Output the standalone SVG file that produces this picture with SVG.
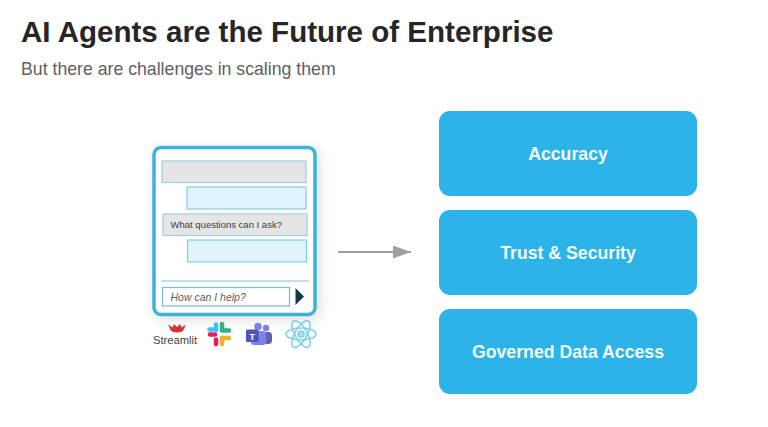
<svg xmlns="http://www.w3.org/2000/svg" width="768" height="427" viewBox="0 0 768 427">
<style>
text{font-family:"Liberation Sans",Arial,sans-serif}
.card{fill:#2cb3e8}
.cl{fill:#f4fbfe;font-size:17.700px;font-weight:700;text-anchor:middle}
.g{fill:#e5e5e5;stroke:#9ccfe0;stroke-width:1.2}
.b{fill:#dff4fd;stroke:#7fcfe4;stroke-width:1.2}
</style>
<defs>
<filter id="sh" x="-20%" y="-20%" width="140%" height="140%"><feDropShadow dx="3" dy="3" stdDeviation="6" flood-color="#000" flood-opacity=".13"/></filter>
<marker id="arr" markerUnits="userSpaceOnUse" markerWidth="18" markerHeight="14" refX="18" refY="6.500" orient="auto"><path d="M0 0L18 6.500L0 13Z" fill="#a0a0a0"/></marker>
</defs>
<rect width="768" height="427" fill="#fff"/>
<text x="21" y="42" font-size="29.550" font-weight="700" fill="#262626">AI Agents are the Future of Enterprise</text>
<text x="21" y="75" font-size="17.700" fill="#5f5f5f">But there are challenges in scaling them</text>
<g id="chat">
<rect x="154" y="147.500" width="161" height="167" rx="7" fill="#fff" stroke="#3bb3dc" stroke-width="3.500" filter="url(#sh)"/>
<rect class="g" x="162" y="161" width="144" height="21.500"/>
<rect class="b" x="187" y="187" width="119" height="22"/>
<rect class="g" x="163" y="214" width="144" height="21.500"/>
<rect class="b" x="187.500" y="240" width="119" height="22"/>
<text x="170.500" y="228" font-size="9.500" fill="#3c3c3c">What questions can I ask?</text>
<line x1="161" y1="281" x2="309" y2="281" stroke="#7fc4dc" stroke-width="1.200"/>
<rect x="162.500" y="287.500" width="127" height="18.500" fill="#fff" stroke="#6fc0d8" stroke-width="1.200"/>
<text x="170.500" y="300.500" font-size="10.500" font-style="italic" fill="#606060">How can I help?</text>
<path d="M295.500 288L304 296.500L295.500 305Z" fill="#16384a"/>
</g>
<g id="streamlit">
<path d="M168 324.500L172.500 327.500L174 324L177 327L180 324L181.500 327.500L186 324.500L183 331Q177 334 171 331Z" fill="#d8323c"/>
<text x="175" y="344" font-size="11.200" fill="#444" text-anchor="middle">Streamlit</text>
</g>
<g id="slack" fill="none" stroke-width="4.600" stroke-linecap="round">
<path d="M210 334.500H215" stroke="#e01e5a"/><path d="M216 339.500V344" stroke="#e01e5a"/>
<path d="M216 324.500V330" stroke="#36c5f0"/><path d="M209.500 329.500H212" stroke="#36c5f0"/>
<path d="M222 324V329" stroke="#2eb67d"/><path d="M222 330.500H229" stroke="#2eb67d"/>
<path d="M222 338H229" stroke="#ecb22e"/><path d="M222 338V344" stroke="#ecb22e"/>
</g>
<g id="teams">
<circle cx="266" cy="328" r="3.200" fill="#7b83eb"/><rect x="263" y="332" width="9" height="12" rx="3.500" fill="#6264a7"/>
<circle cx="258" cy="326.500" r="3.800" fill="#7b83eb"/><rect x="251" y="331" width="15" height="14" rx="3" fill="#7b83eb"/>
<rect x="246" y="329.500" width="12.500" height="12.500" rx="1.500" fill="#4b53bc"/>
<text x="252.200" y="339.500" font-size="9" font-weight="700" fill="#fff" text-anchor="middle">T</text>
</g>
<g id="react" fill="none" stroke="#7fd3e4" stroke-width="1.600">
<ellipse cx="301" cy="334" rx="15" ry="6"/>
<ellipse cx="301" cy="334" rx="15" ry="6" transform="rotate(60 301 334)"/>
<ellipse cx="301" cy="334" rx="15" ry="6" transform="rotate(120 301 334)"/>
<circle cx="301" cy="334" r="3" fill="#a5e0ec"/>
</g>
<g id="connectors"><line x1="338" y1="252" x2="411" y2="252" stroke="#a0a0a0" stroke-width="2.200" marker-end="url(#arr)"/></g>
<g id="accuracy"><rect class="card" x="439" y="111" width="258" height="85" rx="11"/><text class="cl" x="568" y="160">Accuracy</text></g>
<g id="trust"><rect class="card" x="439" y="210" width="258" height="85" rx="11"/><text class="cl" x="568" y="259">Trust &amp; Security</text></g>
<g id="data"><rect class="card" x="439" y="309" width="258" height="85" rx="11"/><text class="cl" x="568" y="358">Governed Data Access</text></g>
</svg>
